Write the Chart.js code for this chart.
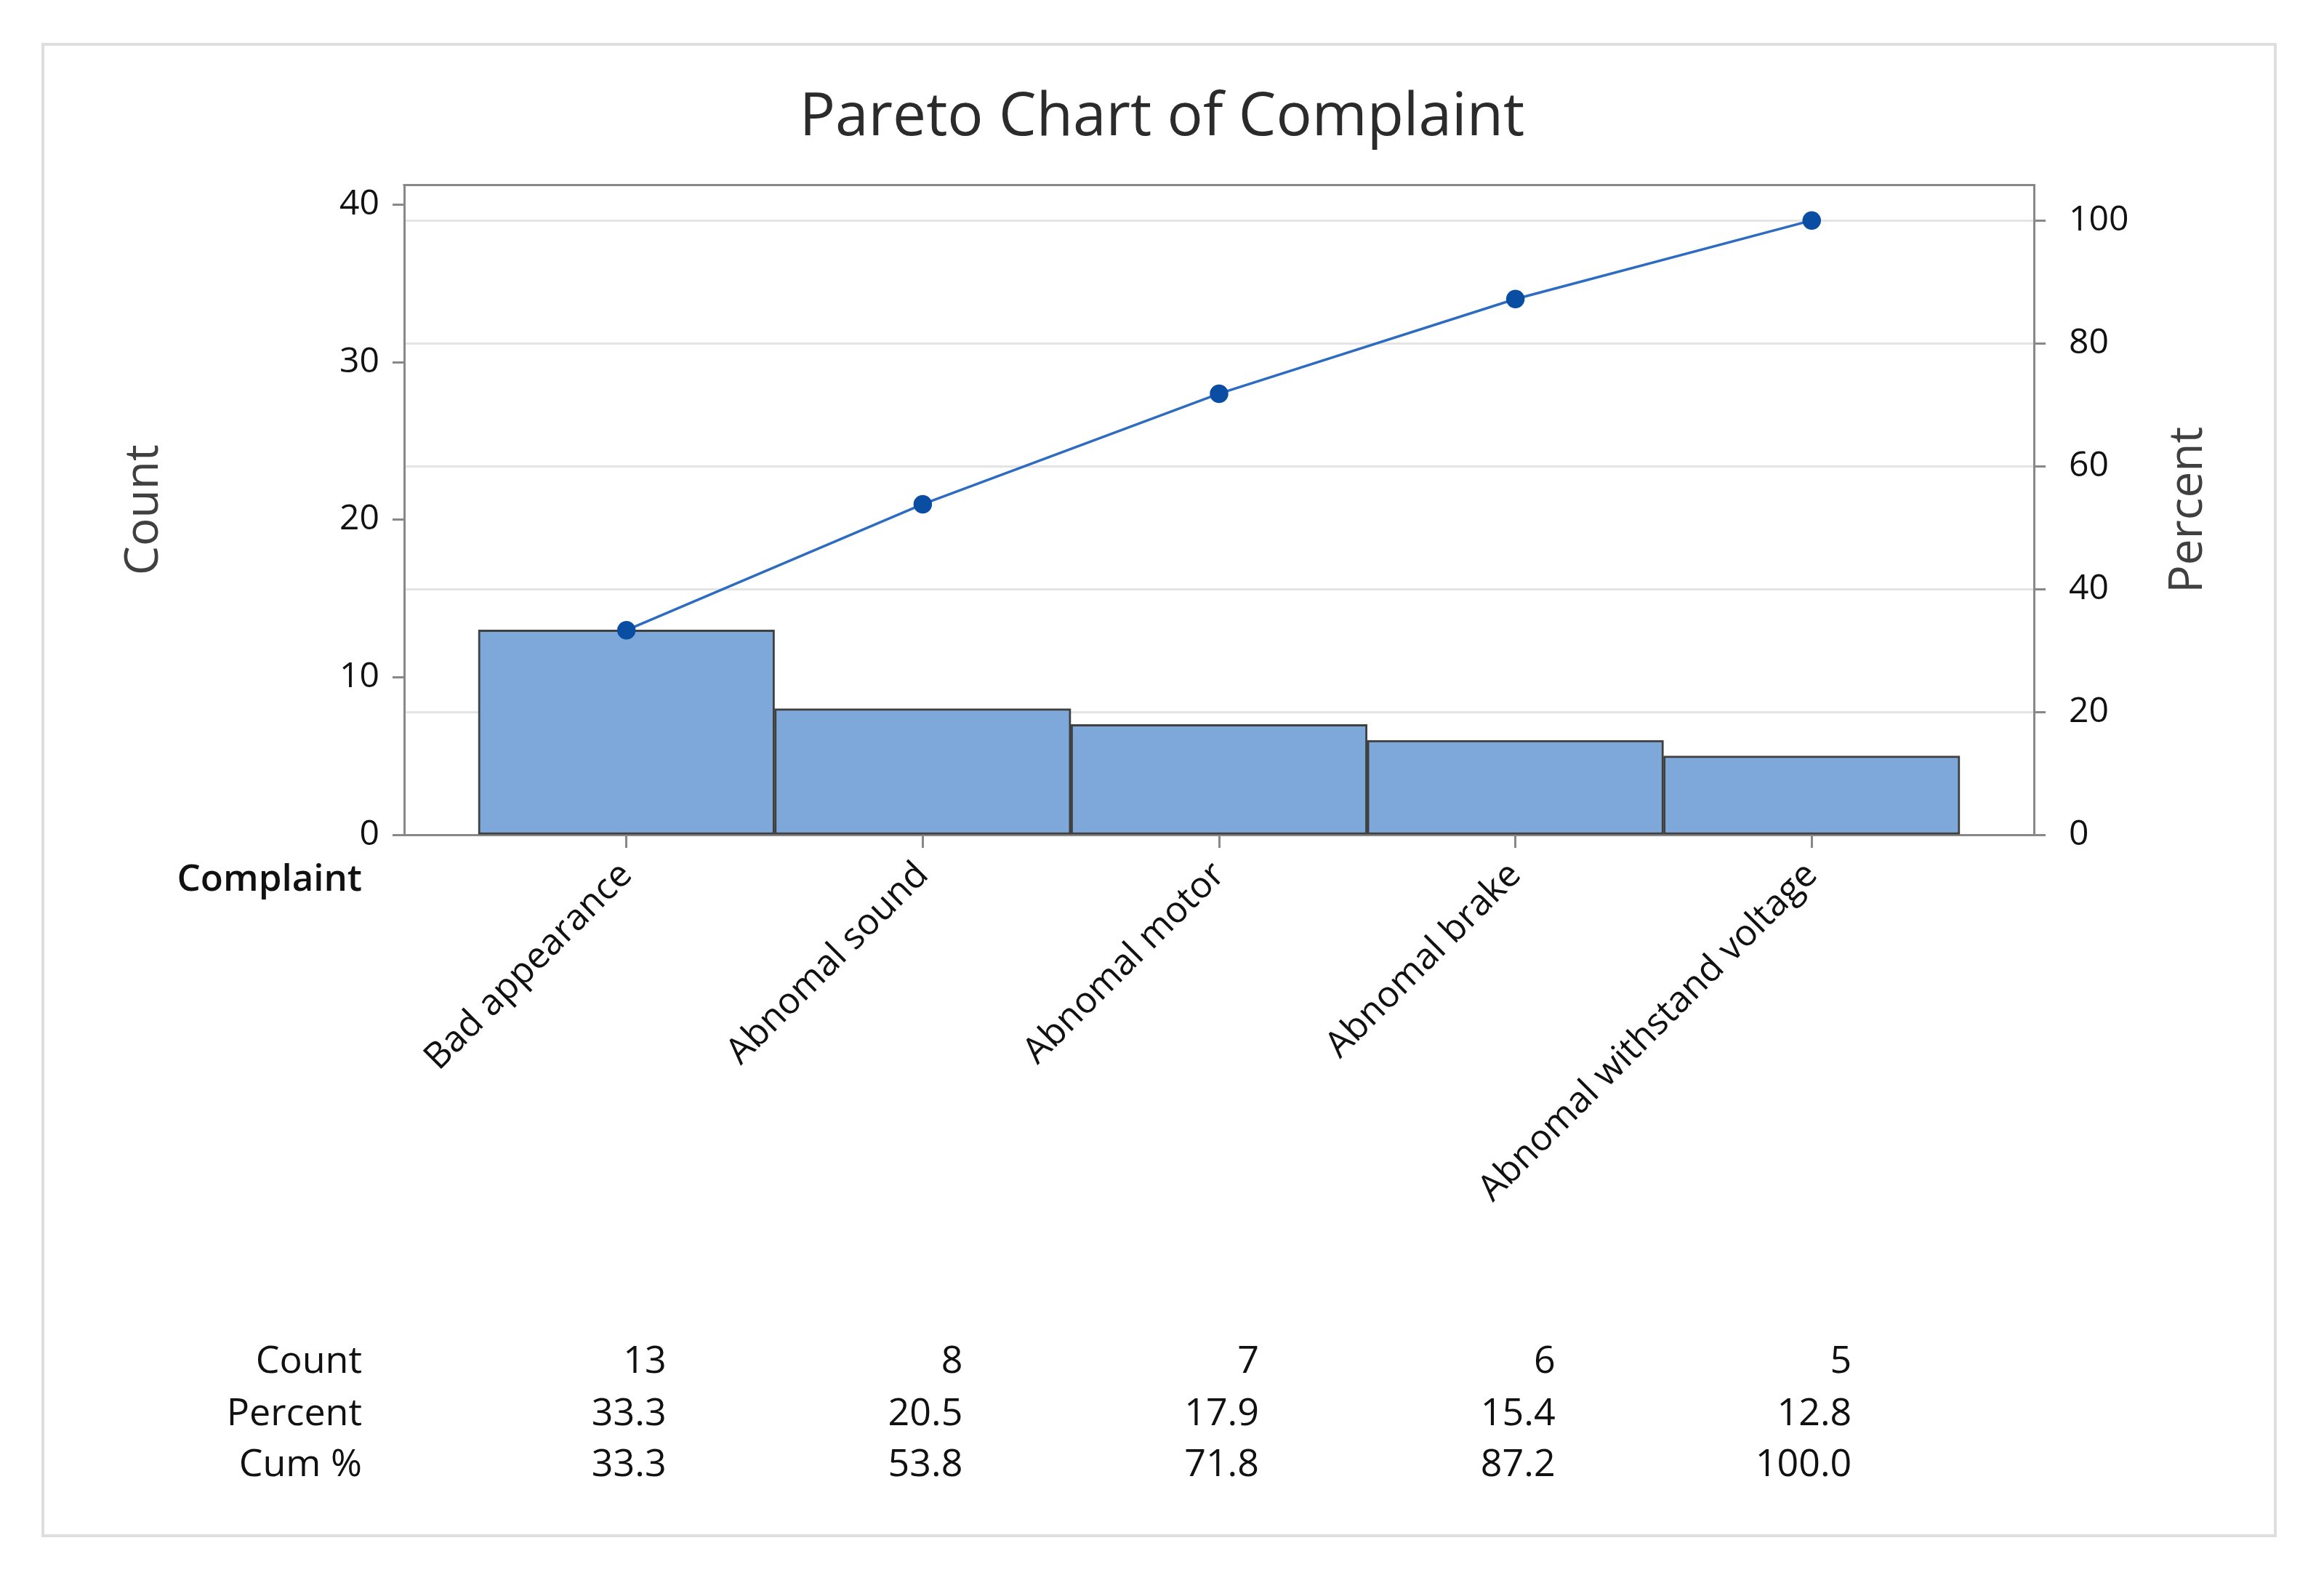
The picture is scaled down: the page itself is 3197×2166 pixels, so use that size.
<!DOCTYPE html>
<html>
<head>
<meta charset="utf-8">
<script src="https://cdn.jsdelivr.net/npm/chart.js@4.4.1/dist/chart.umd.min.js"></script>
<style>
  html, body { margin: 0; padding: 0; background: #fff; }
  canvas { display: block; }
</style>
</head>
<body>
<canvas id="myChart" width="3197" height="2166"></canvas>
<script>

// Chart data
var complaints = ['Bad appearance', 'Abnomal sound', 'Abnomal motor', 'Abnomal brake', 'Abnomal withstand voltage'];
var counts = [13, 8, 7, 6, 5];
var percents = ['33.3', '20.5', '17.9', '15.4', '12.8'];
var cumPercents = [33.3, 53.8, 71.8, 87.2, 100.0];
var countTicks = [0, 10, 20, 30, 40];
var percentTicks = [0, 20, 40, 60, 80, 100];
var tableRows = ['Count', 'Percent', 'Cum %'];

var total = counts.reduce(function (a, b) { return a + b; }, 0);
var countMax = 41.25;
var percentMax = countMax / total * 100;

var FONT = "'Open Sans', 'Noto Sans', sans-serif";

// white page, outer frame, top frame line, "Percent" title, "Complaint" and the summary table
var paretoExtras = {
    id: 'paretoExtras',
    beforeDraw: function (chart) {
        var ctx = chart.ctx;
        ctx.save();
        ctx.fillStyle = '#ffffff';
        ctx.fillRect(0, 0, chart.width, chart.height);
        ctx.strokeStyle = '#dedede';
        ctx.lineWidth = 4;
        ctx.strokeRect(59, 61, 3071, 2051);
        ctx.restore();
    },
    afterDraw: function (chart) {
        var ctx = chart.ctx;
        var area = chart.chartArea;
        var x = chart.scales.x;
        ctx.save();
        ctx.strokeStyle = '#888888';
        ctx.lineWidth = 3;
        ctx.beginPath();
        ctx.moveTo(area.left - 1.5, area.top);
        ctx.lineTo(area.right + 1.5, area.top);
        ctx.stroke();

        // right axis title reads bottom to top, like the left one
        ctx.save();
        ctx.translate(3011, (area.top + area.bottom) / 2);
        ctx.rotate(-Math.PI / 2);
        ctx.fillStyle = '#404040';
        ctx.font = '64px ' + FONT;
        ctx.textAlign = 'center';
        ctx.textBaseline = 'middle';
        ctx.fillText('Percent', 0, 0);
        ctx.restore();

        ctx.fillStyle = '#111111';
        ctx.textAlign = 'right';
        ctx.textBaseline = 'alphabetic';
        ctx.font = '600 51px ' + FONT;
        ctx.fillText('Complaint', 498, 1225);

        ctx.font = '52px ' + FONT;
        var rowY = [1888, 1960, 2030];
        var rows = [
            counts.map(String),
            percents,
            cumPercents.map(function (v) { return v.toFixed(1); })
        ];
        tableRows.forEach(function (label, r) {
            ctx.fillText(label, 498, rowY[r]);
            rows[r].forEach(function (txt, i) {
                ctx.fillText(txt, x.getPixelForValue(i) + 55, rowY[r]);
            });
        });
        ctx.restore();
    }
};

function renderChart() {
    var ctx = document.getElementById('myChart').getContext('2d');
    Chart.defaults.font.family = FONT;
    Chart.defaults.color = '#111111';

    new Chart(ctx, {
        type: 'bar',
        data: {
            datasets: [
                {
                    type: 'line',
                    label: 'Cum %',
                    data: cumPercents.map(function (v, i) { return { x: i, y: v }; }),
                    yAxisID: 'y2',
                    borderColor: '#2d6cc0',
                    borderWidth: 3.5,
                    pointBackgroundColor: '#0a4ea3',
                    pointBorderColor: '#0a4ea3',
                    pointRadius: 11,
                    order: 0
                },
                {
                    label: 'Count',
                    data: counts.map(function (v, i) { return { x: i, y: v }; }),
                    yAxisID: 'y',
                    backgroundColor: '#7ea8da',
                    borderColor: '#404040',
                    borderWidth: 3,
                    borderSkipped: false,
                    barPercentage: 1,
                    categoryPercentage: 1,
                    order: 1
                }
            ]
        },
        options: {
            responsive: false,
            devicePixelRatio: 1,
            animation: false,
            layout: { padding: 0 },
            plugins: {
                legend: { display: false },
                tooltip: { enabled: false },
                title: {
                    display: true,
                    text: 'Pareto Chart of Complaint',
                    color: '#2b2b2b',
                    font: { size: 82, weight: 'normal', family: FONT },
                    padding: { top: 113, bottom: 43 }
                }
            },
            scales: {
                x: {
                    type: 'linear',
                    min: -0.75,
                    max: 4.75,
                    offset: false,
                    afterBuildTicks: function (scale) {
                        scale.ticks = complaints.map(function (c, i) { return { value: i }; });
                    },
                    afterFit: function (scale) { scale.height = 1018; },
                    ticks: {
                        autoSkip: false,
                        minRotation: 45,
                        maxRotation: 45,
                        padding: 8,
                        font: { size: 50 },
                        color: '#111111',
                        callback: function (v) { return complaints[v]; }
                    },
                    grid: {
                        display: true,
                        offset: false,
                        drawOnChartArea: false,
                        drawTicks: true,
                        tickLength: 18,
                        tickColor: '#888888',
                        tickWidth: 3
                    },
                    border: { color: '#888888', width: 3 }
                },
                y: {
                    position: 'left',
                    min: 0,
                    max: countMax,
                    afterBuildTicks: function (scale) {
                        scale.ticks = countTicks.map(function (v) { return { value: v }; });
                    },
                    afterFit: function (scale) { scale.width = 556; },
                    ticks: {
                        padding: 18,
                        font: { size: 48 },
                        color: '#111111'
                    },
                    grid: {
                        display: true,
                        drawOnChartArea: false,
                        drawTicks: true,
                        tickLength: 16,
                        tickColor: '#888888',
                        tickWidth: 3
                    },
                    border: { color: '#888888', width: 3 },
                    title: {
                        display: true,
                        text: 'Count',
                        color: '#404040',
                        font: { size: 64, weight: 'normal' },
                        padding: { top: 160, bottom: 0 }
                    }
                },
                y2: {
                    position: 'right',
                    min: 0,
                    max: percentMax,
                    afterBuildTicks: function (scale) {
                        scale.ticks = percentTicks.map(function (v) { return { value: v }; });
                    },
                    afterFit: function (scale) { scale.width = 399; },
                    ticks: {
                        padding: 32,
                        font: { size: 48 },
                        color: '#111111'
                    },
                    grid: {
                        display: true,
                        drawOnChartArea: true,
                        color: '#e4e4e4',
                        lineWidth: 3,
                        drawTicks: true,
                        tickLength: 16,
                        tickColor: '#888888',
                        tickWidth: 3
                    },
                    border: { color: '#888888', width: 3 },
                    title: { display: false }
                }
            }
        },
        plugins: [paretoExtras]
    });
}

renderChart();
</script>
</body>
</html>
